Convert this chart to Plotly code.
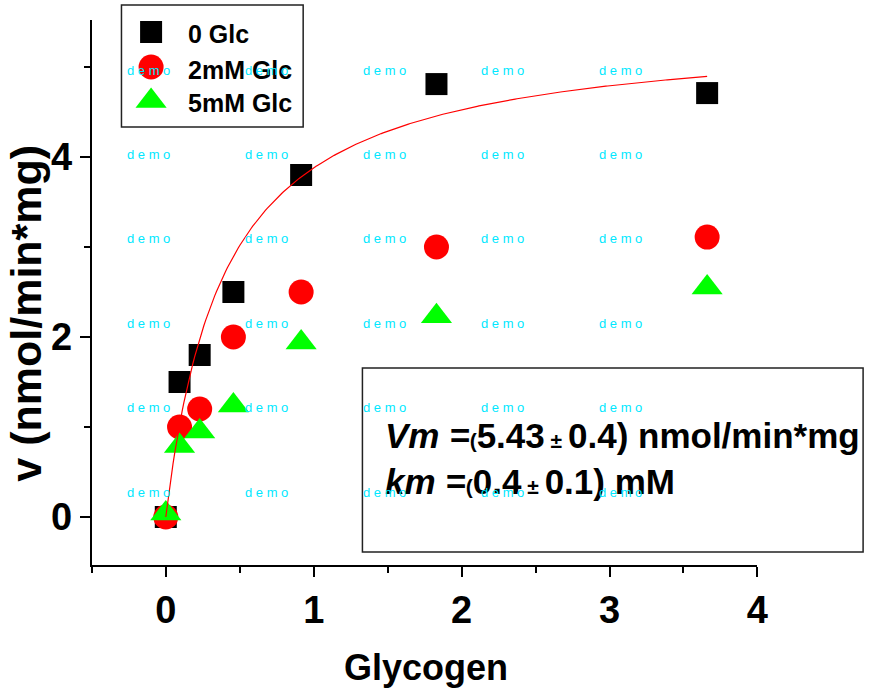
import numpy as np
import plotly.graph_objects as go

W, H = 882, 695
FONT = "Liberation Sans"

# Reaction rate v (nmol/min*mg) versus glycogen, at three glucose levels
glycogen = [0, 0.093, 0.229, 0.457, 0.915, 1.83, 3.66]
v_0glc = [0, 1.5, 1.8, 2.5, 3.8, 4.81, 4.71]
v_2mm = [0, 1.0, 1.2, 2.0, 2.5, 3.0, 3.11]
v_5mm = [0.04, 0.79, 0.95, 1.24, 1.94, 2.23, 2.55]

series_names = ["0 Glc", "2mM Glc", "5mM Glc"]
series_values = [v_0glc, v_2mm, v_5mm]
series_colors = ["#000000", "#FF0000", "#00FF00"]
series_symbols = ["square", "circle", "triangle-up"]
series_sizes = [22, 25, 27]

# Michaelis-Menten fit of the 0 Glc series
VM, VM_ERR = 5.43, 0.4
KM, KM_ERR = 0.4, 0.1

x_ticks = [0, 1, 2, 3, 4]
y_ticks = [0, 2, 4]


def fx(px):
    """pixel column -> paper x"""
    return px / W


def fy(py):
    """pixel row -> paper y"""
    return 1 - py / H


fig = go.Figure()

for name, vals, col, sym, size in zip(series_names, series_values,
                                      series_colors, series_symbols, series_sizes):
    fig.add_trace(go.Scatter(
        x=glycogen, y=vals, mode="markers", name=name,
        marker=dict(symbol=sym, color=col, size=size, line=dict(width=0)),
        showlegend=False, cliponaxis=False,
    ))

x_fit = np.linspace(0, max(glycogen), 300)
v_fit = VM * x_fit / (KM + x_fit)
fig.add_trace(go.Scatter(
    x=x_fit, y=v_fit, mode="lines", line=dict(color="#FF0000", width=1.2),
    showlegend=False, hoverinfo="skip",
))

# Legend symbols, placed on a paper-scaled overlay axis
legend_marker_x = 153
legend_marker_y = [32, 67, 101]
legend_text_y = [34, 70, 103]
for name, col, sym, size, ly in zip(series_names, series_colors, series_symbols,
                                    series_sizes, legend_marker_y):
    fig.add_trace(go.Scatter(
        x=[fx(legend_marker_x)], y=[fy(ly)], mode="markers", xaxis="x2", yaxis="y2",
        marker=dict(symbol=sym, color=col, size=size, line=dict(width=0)),
        showlegend=False, hoverinfo="skip", cliponaxis=False,
    ))

axis_common = dict(
    showline=True, linecolor="black", linewidth=2, mirror=False,
    ticks="outside", ticklen=10, tickwidth=2, tickcolor="black",
    showgrid=False, zeroline=False,
    tickfont=dict(family=FONT, size=38, color="black", weight="bold"),
)

annotations = []
annotations.append(dict(
    text="Glycogen", x=fx(431), y=fy(667), xref="paper", yref="paper",
    xanchor="center", yanchor="middle", showarrow=False,
    font=dict(family=FONT, size=36, color="black", weight="bold"),
))
annotations.append(dict(
    text="v (nmol/min*mg)", x=fx(26), y=fy(313), xref="paper", yref="paper",
    xanchor="center", yanchor="middle", showarrow=False, textangle=-90,
    font=dict(family=FONT, size=43, color="black", weight="bold"),
))
for name, ty in zip(series_names, legend_text_y):
    annotations.append(dict(
        text=name, x=fx(188), y=fy(ty), xref="paper", yref="paper",
        xanchor="left", yanchor="middle", showarrow=False,
        font=dict(family=FONT, size=25, color="black", weight="bold"),
    ))

small = '<span style="font-size:21px">'
stats = (
    f"<i>Vm</i> <i>=</i>{small}(</span>{VM:.2f}{small} ± </span>{VM_ERR}) nmol/min*mg"
    f"<br><i>km</i> <i>=</i>{small}(</span>{KM}{small} ± </span>{KM_ERR}) mM"
)
annotations.append(dict(
    text=stats, x=fx(388), y=fy(458), xref="paper", yref="paper",
    xanchor="left", yanchor="middle", align="left", showarrow=False,
    font=dict(family=FONT, size=35, color="black", weight="bold"),
))

# "demo" watermark grid
for r in range(6):
    for c in range(5):
        annotations.append(dict(
            text="d e m o", x=fx(150.5 + 119.5 * c), y=fy(70 + 84.4 * r),
            xref="paper", yref="paper", xanchor="center", yanchor="middle",
            showarrow=False, font=dict(family=FONT, size=13, color="#00E8FF"),
        ))

shapes = [
    dict(type="rect", xref="paper", yref="paper",
         x0=fx(123), x1=fx(307), y0=fy(127), y1=fy(5),
         line=dict(color="#222222", width=1.5), fillcolor="rgba(0,0,0,0)"),
    dict(type="rect", xref="paper", yref="paper",
         x0=fx(367), x1=fx(874), y0=fy(552), y1=fy(368),
         line=dict(color="#222222", width=1.5), fillcolor="rgba(0,0,0,0)"),
]

fig.update_layout(
    width=W, height=H,
    margin=dict(l=0, r=0, t=0, b=0),
    paper_bgcolor="white", plot_bgcolor="rgba(0,0,0,0)",
    showlegend=False,
    xaxis=dict(
        domain=[fx(93), fx(767)], range=[-0.5, 4], anchor="y",
        tickvals=x_ticks,
        minor=dict(dtick=0.5, tick0=0, ticks="outside", ticklen=6,
                   tickwidth=2, tickcolor="black", showgrid=False),
        **axis_common,
    ),
    yaxis=dict(
        domain=[fy(565), fy(20)], range=[-0.5333, 5.522], anchor="x",
        tickvals=y_ticks,
        minor=dict(dtick=1, tick0=0, ticks="outside", ticklen=6,
                   tickwidth=2, tickcolor="black", showgrid=False),
        **axis_common,
    ),
    xaxis2=dict(domain=[0, 1], range=[0, 1], anchor="y2", visible=False,
                fixedrange=True),
    yaxis2=dict(domain=[0, 1], range=[0, 1], anchor="x2", visible=False,
                fixedrange=True),
    annotations=annotations,
    shapes=shapes,
)

fig.write_html("out.html", config={"displayModeBar": False})
